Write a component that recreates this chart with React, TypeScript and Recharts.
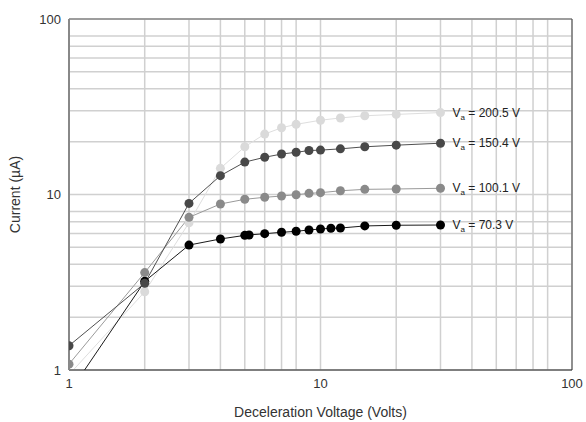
import {
  LineChart,
  Line,
  XAxis,
  YAxis,
  CartesianGrid,
  ReferenceLine,
  LabelList,
  Label,
} from 'recharts';

// grid / tick positions (decades plus minor steps)
const GRID_TICKS = [1, 2, 3, 4, 5, 6, 7, 8, 9, 10, 20, 30, 40, 50, 60, 70, 80, 90, 100];
const MAJOR_TICKS = [1, 10, 100];

// Va = 200.5 V
const X_200 = [1, 2, 3, 4, 5, 6, 7, 8, 10, 12, 15, 20, 30];
const I_200 = [0.94, 2.79, 6.9, 14.1, 18.7, 22.1, 24.0, 25.1, 26.5, 27.3, 28.1, 28.6, 29.3];

// Va = 150.4 V
const X_150 = [1, 2, 3, 4, 5, 6, 7, 8, 9, 10, 12, 15, 20, 30];
const I_150 = [1.375, 3.12, 8.9, 12.8, 15.3, 16.3, 17.0, 17.4, 17.8, 17.9, 18.2, 18.7, 19.1, 19.6];

// Va = 100.1 V
const X_100 = [1, 2, 3, 4, 5, 6, 7, 8, 9, 10, 12, 15, 20, 30];
const I_100 = [1.08, 3.59, 7.41, 8.83, 9.39, 9.64, 9.8, 9.97, 10.15, 10.24, 10.5, 10.7, 10.75, 10.85];

// Va = 70.3 V
const X_70 = [1, 2, 3, 4, 5, 5.2, 6, 7, 8, 9, 10, 11, 12, 15, 20, 30];
const I_70 = [0.74, 3.2, 5.15, 5.58, 5.85, 5.88, 5.98, 6.09, 6.17, 6.28, 6.36, 6.42, 6.44, 6.62, 6.68, 6.7];

const VA_LABELS = ['200.5', '150.4', '100.1', '70.3'];

const toRows = (xs: number[], ys: number[]) => xs.map((x, i) => ({ x, y: ys[i] }));

const SERIES = [
  { name: VA_LABELS[0], data: toRows(X_200, I_200), dot: '#dadada', line: '#dedede' },
  { name: VA_LABELS[3], data: toRows(X_70, I_70), dot: '#000000', line: '#1a1a1a' },
  { name: VA_LABELS[2], data: toRows(X_100, I_100), dot: '#8a8a8a', line: '#9a9a9a' },
  { name: VA_LABELS[1], data: toRows(X_150, I_150), dot: '#484848', line: '#505050' },
];

const FONT = 'Liberation Sans, Arial, sans-serif';

const endLabel = (name: string, lastIndex: number) => (props: any) => {
  if (props.index !== lastIndex) return null;
  return (
    <text x={props.x + 12} y={props.y + 4} fontSize={12} fontFamily={FONT} fill="#222">
      V<tspan fontSize={8} dy={3}>a</tspan>
      <tspan dy={-3}>{` = ${name} V`}</tspan>
    </text>
  );
};

export default function App() {
  return (
    <div style={{ position: 'absolute', left: 0, top: 0, background: '#fff' }}>
      <LineChart width={586} height={422} margin={{ top: 19, right: 14, bottom: 22, left: 19 }}>
        <CartesianGrid stroke="#d0d0d0" strokeWidth={1.5} />
        <XAxis
          dataKey="x"
          type="number"
          scale="log"
          domain={[1, 100]}
          ticks={GRID_TICKS}
          tickFormatter={(v: number) => (MAJOR_TICKS.includes(v) ? String(v) : '')}
          allowDataOverflow
          height={30}
          tickLine={false}
          tickSize={0}
          tickMargin={9}
          axisLine={{ stroke: '#222' }}
          tick={{ fill: '#333', fontSize: 13, fontFamily: FONT }}
        >
          <Label
            content={(p: any) => (
              <text
                x={p.viewBox.x + p.viewBox.width / 2}
                y={417}
                textAnchor="middle"
                fontSize={14}
                fontFamily={FONT}
                fill="#333"
              >
                Deceleration Voltage (Volts)
              </text>
            )}
          />
        </XAxis>
        <YAxis
          dataKey="y"
          type="number"
          scale="log"
          domain={[1, 100]}
          ticks={GRID_TICKS}
          tickFormatter={(v: number) => (MAJOR_TICKS.includes(v) ? String(v) : '')}
          allowDataOverflow
          width={50}
          tickLine={false}
          tickSize={0}
          tickMargin={8}
          axisLine={{ stroke: '#888', strokeWidth: 2 }}
          tick={{ fill: '#333', fontSize: 13, fontFamily: FONT }}
        >
          <Label
            content={(p: any) => {
              const cy = p.viewBox.y + p.viewBox.height / 2;
              return (
                <text
                  x={20}
                  y={cy}
                  transform={`rotate(-90, 20, ${cy})`}
                  textAnchor="middle"
                  fontSize={14}
                  fontFamily={FONT}
                  fill="#333"
                >
                  Current (µA)
                </text>
              );
            }}
          />
        </YAxis>
        <ReferenceLine y={100} stroke="#888" strokeWidth={1.5} />
        <ReferenceLine x={100} stroke="#444" strokeWidth={1} />
        {SERIES.map((s) => (
          <Line
            key={s.name}
            data={s.data}
            dataKey="y"
            stroke={s.line}
            strokeWidth={1}
            dot={{ r: 4.5, fill: s.dot, stroke: s.dot, strokeWidth: 0 }}
            activeDot={false}
            isAnimationActive={false}
          >
            <LabelList dataKey="y" content={endLabel(s.name, s.data.length - 1)} />
          </Line>
        ))}
      </LineChart>
    </div>
  );
}
